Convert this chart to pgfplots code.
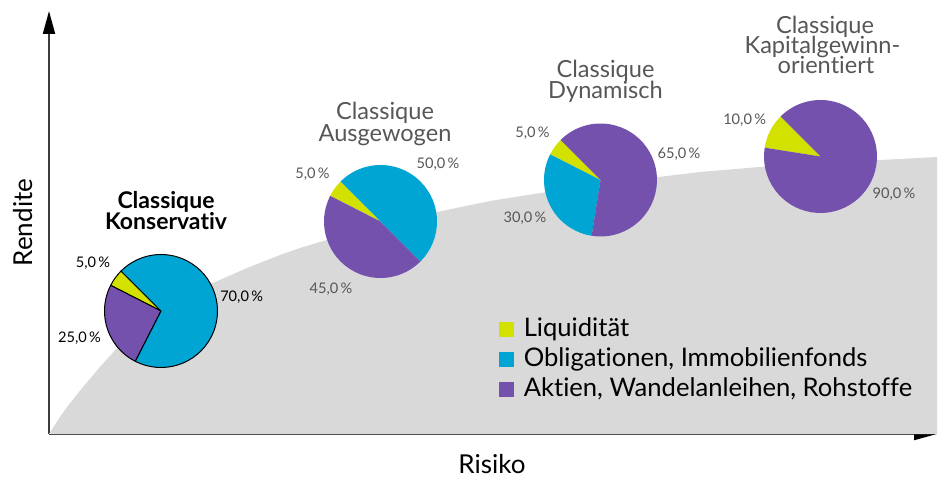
\documentclass[border=0pt]{standalone}
\usepackage{fontspec}
\setmainfont{Lato}[Ligatures={NoCommon}]
\usepackage{pgfplots}
\pgfplotsset{compat=1.18}
\usetikzlibrary{arrows.meta}
\definecolor{liq}{RGB}{210,225,0}
\definecolor{obl}{RGB}{0,165,212}
\definecolor{akt}{RGB}{115,81,173}
\definecolor{areagray}{RGB}{217,217,217}
\definecolor{tgray}{RGB}{87,87,87}
\definecolor{axisgray}{RGB}{60,60,60}
% pie slice: centre x, centre y, from %, to %, colour, extra style
\newcommand{\slice}[6]{%
  \fill[#5,#6] (axis cs:#1,#2) -- ++({135+3.6*#3}:28.25pt)
    arc[start angle={135+3.6*#3}, end angle={135+3.6*#4}, radius=28.25pt] -- cycle;}
\begin{document}
\begin{tikzpicture}
\begin{axis}[
  x=0.5pt, y=0.5pt,
  xmin=49, xmax=937, ymin=43, ymax=466,
  axis lines=left,
  xtick=\empty, ytick=\empty,
  clip=false,
  axis line style={draw=axisgray, line width=1pt, -{Triangle[length=11.5pt,width=6pt,color=black]}},
  legend image code/.code={\fill[#1] (0pt,0pt) rectangle (7pt,7pt);},
  legend style={at={(axis cs:499,158.3)}, anchor=north west, draw=none, fill=none,
    inner sep=0pt, outer sep=0pt, row sep=3pt,
    font=\fontsize{12.8}{14}\selectfont,
    cells={anchor=base west},
    nodes={inner sep=0pt, text height=9pt, text depth=3pt},
    /tikz/every odd column/.append style={column sep=5pt}},
]
% grey risk/return area
\addplot[fill=areagray, draw=none, forget plot] coordinates {
 (49,43) (58,57) (67,70) (83,90) (100,110) (117,129) (140,151) (165,169)
 (190,182) (213,194) (247,209) (280,222) (300,229) (350,244) (400,256)
 (437,265) (490,276) (547,285) (600,292) (650,299) (700,305) (760,310)
 (820,314) (880,317) (937,320) (937,43)} -- cycle;

\addlegendimage{liq}\addlegendentry{Liquidität}
\addlegendimage{obl}\addlegendentry{Obligationen, Immobilienfonds}
\addlegendimage{akt}\addlegendentry{Aktien, Wandelanleihen, Rohstoffe}

% Pie 1: Konservativ (5 / 25 / 70)
\slice{161}{166}{0}{5}{liq}{draw=black,line width=0.5pt}
\slice{161}{166}{5}{30}{akt}{draw=black,line width=0.5pt}
\slice{161}{166}{30}{100}{obl}{draw=black,line width=0.5pt}
% Pie 2: Ausgewogen (5 / 45 / 50)
\slice{380.5}{255.5}{0}{5}{liq}{}
\slice{380.5}{255.5}{5}{50}{akt}{}
\slice{380.5}{255.5}{50}{100}{obl}{}
% Pie 3: Dynamisch (5 / 30 / 65)
\slice{600.5}{297}{0}{5}{liq}{}
\slice{600.5}{297}{5}{35}{obl}{}
\slice{600.5}{297}{35}{100}{akt}{}
% Pie 4: Kapitalgewinn-orientiert (10 / 90)
\slice{820.5}{320.5}{0}{10}{liq}{}
\slice{820.5}{320.5}{10}{100}{akt}{}

% percentage labels
\begin{scope}[every node/.style={anchor=base, inner sep=0pt, font=\fontsize{7.3}{8}\selectfont}]
\node at (axis cs:93,209.3) {5,0\,\%};
\node at (axis cs:241.7,175.3) {70,0\,\%};
\node at (axis cs:79.5,134.3) {25,0\,\%};
\node[text=tgray] at (axis cs:312.5,298) {5,0\,\%};
\node[text=tgray] at (axis cs:438,308.7) {50,0\,\%};
\node[text=tgray] at (axis cs:331,183.7) {45,0\,\%};
\node[text=tgray] at (axis cs:532.5,339.7) {5,0\,\%};
\node[text=tgray] at (axis cs:679,318.7) {65,0\,\%};
\node[text=tgray] at (axis cs:525,254.3) {30,0\,\%};
\node[text=tgray] at (axis cs:744.7,352.7) {10,0\,\%};
\node[text=tgray] at (axis cs:894,278.7) {90,0\,\%};
\end{scope}

% titles
\begin{scope}[every node/.style={anchor=base, inner sep=0pt, font=\fontsize{11.8}{13}\selectfont, text=tgray}]
\node[font=\bfseries\fontsize{11.5}{13}\selectfont, text=black] at (axis cs:166,268.7) {Classique};
\node[font=\bfseries\fontsize{11.5}{13}\selectfont, text=black] at (axis cs:166,247) {Konservativ};
\node at (axis cs:385,357.7) {Classique};
\node at (axis cs:385,335.3) {Ausgewogen};
\node at (axis cs:605.5,399.7) {Classique};
\node at (axis cs:605.5,378.7) {Dynamisch};
\node at (axis cs:825,443.7) {Classique};
\node at (axis cs:822.5,423.7) {Kapitalgewinn-};
\node at (axis cs:826,403) {orientiert};
\end{scope}

% axis labels
\node[anchor=base, inner sep=0pt, rotate=90, font=\fontsize{13}{14}\selectfont] at (axis cs:33,254.5) {Rendite};
\node[anchor=base, inner sep=0pt, font=\fontsize{13}{14}\selectfont] at (axis cs:492,3.7) {Risiko};

\coordinate (bl) at (axis cs:0,0);
\coordinate (tr) at (axis cs:943,477);
\end{axis}
\pgfresetboundingbox
\useasboundingbox (bl) rectangle (tr);
\end{tikzpicture}
\end{document}
